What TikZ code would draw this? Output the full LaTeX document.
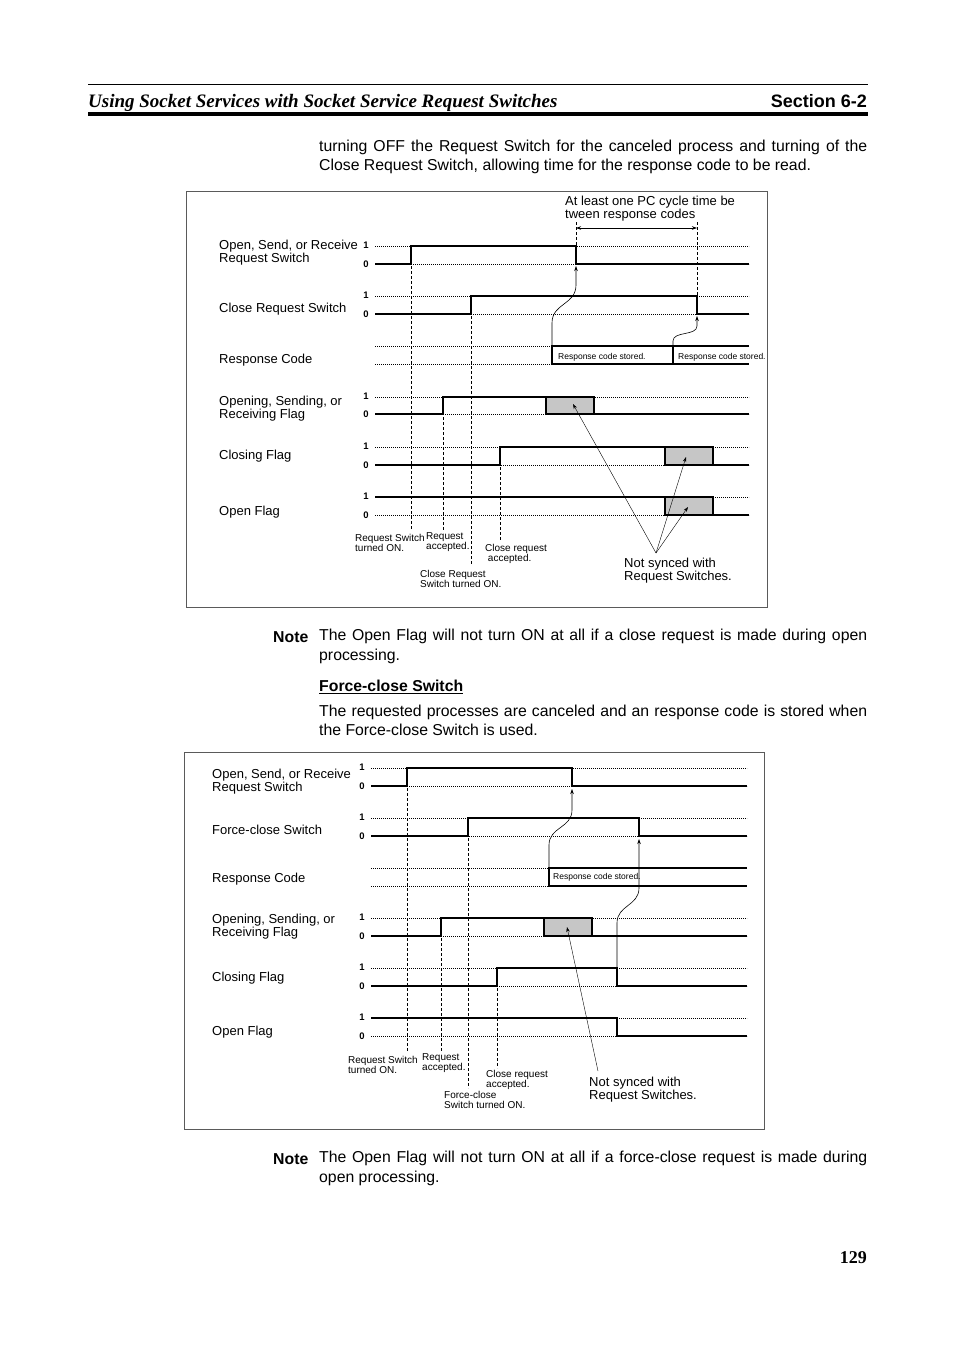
\documentclass[tikz,border=0pt]{standalone}
\usepackage{fontspec}
\setmainfont{Liberation Sans}
\newfontfamily\headserif{Liberation Serif}
\usetikzlibrary{arrows.meta,calc,positioning}
\definecolor{FlagGray}{HTML}{C6C6C6}
\definecolor{FrameGray}{HTML}{5A5A5A}
\tikzset{
  wave/.style={line width=1.8pt},
  lvl/.style={dash pattern=on .8pt off 1.2pt,line width=.7pt},
  guide/.style={dash pattern=on 3pt off 2pt,line width=.8pt},
  digit/.style={font=\fontsize{9.5}{9.5}\selectfont\bfseries,inner sep=0pt},
  sig/.style={font=\fontsize{13}{12}\selectfont,inner sep=0pt,anchor=west,align=left,yshift=-2pt},
  tiny/.style={font=\fontsize{10}{10}\selectfont,inner sep=0pt,anchor=west,align=left,yshift=-1.5pt},
  stored/.style={font=\fontsize{8.5}{8.5}\selectfont,inner sep=0pt,anchor=west,yshift=-1pt},
  body/.style={font=\fontsize{15.8}{19.5}\selectfont,inner sep=0pt,anchor=west,align=left,yshift=-2pt},
  frame/.style={draw=FrameGray,line width=.9pt},
  busy/.style={fill=FlagGray,draw,line width=1.8pt},
  tip/.style={-{Stealth[length=5pt,width=3.5pt]},line width=.6pt},
}
% name, x from, x to, y of level 1, y of level 0
\newcommand{\SigLevels}[5]{%
  \draw[lvl] (#2,#4) -- (#3,#4);
  \draw[lvl] (#2,#5) -- (#3,#5);
  \node[digit] (#1-hi) at (#2-9,#4-1) {1};
  \node[digit] (#1-lo) at (#2-9,#5) {0};}
\newcommand{\FullLine}[1]{\makebox[548pt][s]{#1}}

\begin{document}
\begin{tikzpicture}[x=1pt,y=-1pt]
  \useasboundingbox (0,0) rectangle (954,1351);
  \fill[white] (0,0) rectangle (954,1351);

  % page head
  \draw[line width=.8pt] (88,84) -- (868,84);
  \draw[line width=4pt] (88,114) -- (868,114);
  \node[anchor=west,inner sep=0pt,font=\headserif\bfseries\itshape\fontsize{19}{19}\selectfont]
    (head) at (88,103) {Using Socket Services with Socket Service Request Switches};
  \node[anchor=east,inner sep=0pt,font=\bfseries\fontsize{18}{18}\selectfont]
    (sect) at (867,101.5) {Section 6-2};
  \node[body] (par1) at (319,155) {\FullLine{turning OFF the Request Switch for the canceled process and turning of the}\\
    Close Request Switch, allowing time for the response code to be read.};

  % first chart
  \draw[frame] (186,191) rectangle (767,607);
  \node[sig] (r1) at (219,251) {Open, Send, or Receive\\Request Switch};
  \node[sig] (r2) at (219,307) {Close Request Switch};
  \node[sig] (r3) at (219,358) {Response Code};
  \node[sig] (r4) at (219,406.5) {Opening, Sending, or\\Receiving Flag};
  \node[sig] (r5) at (219,454) {Closing Flag};
  \node[sig] (r6) at (219,510) {Open Flag};
  \SigLevels{a1}{375}{749}{246}{264}
  \SigLevels{a2}{375}{749}{296}{314}
  \draw[lvl] (375,346) -- (552,346);
  \draw[lvl] (375,364) -- (552,364);
  \SigLevels{a4}{375}{749}{397}{414}
  \SigLevels{a5}{375}{749}{447}{465}
  \SigLevels{a6}{375}{749}{497}{515}
  \draw[guide] (411,246) -- (411,530);
  \draw[guide] (443,397) -- (443,530);
  \draw[guide] (471,296) -- (471,565);
  \draw[guide] (500,447) -- (500,540);
  \draw[guide] (576,222) -- (576,246);
  \draw[guide] (697,222) -- (697,296);
  \draw[wave] (375,264) -| (411,246) -| (576,264) -- (749,264);
  \draw[wave] (375,314) -| (471,296) -| (697,314) -- (749,314);
  \draw[wave] (749,346) -- (552,346) -- (552,364) -- (749,364);
  \draw[wave] (673,346) -- (673,364);
  \draw[wave] (375,414) -| (443,397) -- (546,397);
  \draw[busy] (546,397) rectangle (594,414);
  \draw[wave] (594,414) -- (749,414);
  \draw[wave] (375,465) -| (500,447) -- (665,447);
  \draw[busy] (665,447) rectangle (713,465);
  \draw[wave] (713,465) -- (749,465);
  \draw[wave] (375,497) -- (665,497);
  \draw[busy] (665,497) rectangle (713,515);
  \draw[wave] (713,515) -- (749,515);
  \node[stored] (rc1) at (558,356) {Response code stored.};
  \node[stored] (rc2) at (678,356) {Response code stored.};
  \node[sig] (cycle) at (565,207) {At least one PC cycle time be\\tween response codes};
  \coordinate (cyc-l) at (576,228);
  \coordinate (cyc-r) at (697,228);
  \draw[{Stealth[length=5pt,width=3.5pt]}-{Stealth[length=5pt,width=3.5pt]},line width=.6pt] (cyc-l) -- (cyc-r);
  \coordinate (rc1-edge) at (552,346);
  \coordinate (rc2-edge) at (673,346);
  \draw[tip] (rc1-edge) -- ++(0,-23) .. controls +(0,-20) and +(0,20) .. (576,285) -- (576,266);
  \draw[tip] (rc2-edge) -- ++(0,-5) .. controls +(0,-10) and +(0,10) .. (697,326) -- (697,316);
  \node[sig] (sync1) at (624,568.5) {Not synced with\\Request Switches.};
  \coordinate (sync1-top) at (656,553);
  \coordinate (busy1) at (573,404);
  \coordinate (busy2) at (686,457);
  \coordinate (busy3) at (688,507);
  \draw[tip,line width=.4pt] (sync1-top) -- (busy1);
  \draw[tip,line width=.4pt] (sync1-top) -- (busy2);
  \draw[tip,line width=.4pt] (sync1-top) -- (busy3);
  \node[tiny] (t1) at (355,541) {Request Switch\\turned ON.};
  \node[tiny] (t2) at (426,541) {Request\\accepted.};
  \node[tiny] (t3) at (485,552.5) {Close request\\\ accepted.};
  \node[tiny] (t4) at (420,577.5) {Close Request\\Switch turned ON.};

  % notes and text between charts
  \node[body,font=\bfseries\fontsize{15.8}{19.5}\selectfont] (note1) at (273,635) {Note};
  \node[body] (par2) at (319,644.5) {\FullLine{The Open Flag will not turn ON at all if a close request is made during open}\\
    processing.};
  \node[body,font=\bfseries\fontsize{15.8}{19.5}\selectfont] (fcs) at (319,685) {\underline{Force-close Switch}};
  \node[body] (par3) at (319,718.5) {\FullLine{The requested processes are canceled and an response code is stored when}\\
    the Force-close Switch is used.};

  % second chart
  \draw[frame] (184,752) rectangle (764,1129);
  \node[sig] (s1) at (212,779.5) {Open, Send, or Receive\\Request Switch};
  \node[sig] (s2) at (212,828) {Force-close Switch};
  \node[sig] (s3) at (212,877) {Response Code};
  \node[sig] (s4) at (212,924.5) {Opening, Sending, or\\Receiving Flag};
  \node[sig] (s5) at (212,976) {Closing Flag};
  \node[sig] (s6) at (212,1030) {Open Flag};
  \SigLevels{b1}{371}{747}{768}{786}
  \SigLevels{b2}{371}{747}{818}{836}
  \draw[lvl] (371,868) -- (549,868);
  \draw[lvl] (371,886) -- (549,886);
  \SigLevels{b4}{371}{747}{918}{936}
  \SigLevels{b5}{371}{747}{968}{986}
  \SigLevels{b6}{371}{747}{1018}{1036}
  \draw[guide] (407,768) -- (407,1052);
  \draw[guide] (441,918) -- (441,1052);
  \draw[guide] (468,818) -- (468,1088);
  \draw[guide] (497,968) -- (497,1068);
  \draw[wave] (371,786) -| (407,768) -| (572,786) -- (747,786);
  \draw[wave] (371,836) -| (468,818) -| (639,836) -- (747,836);
  \draw[wave] (747,868) -- (549,868) -- (549,886) -- (747,886);
  \draw[wave] (371,936) -| (441,918) -- (544,918);
  \draw[busy] (544,918) rectangle (592,936);
  \draw[wave] (592,936) -- (747,936);
  \draw[wave] (371,986) -| (497,968) -| (617,986) -- (747,986);
  \draw[wave] (371,1018) -| (617,1036) -- (747,1036);
  \node[stored] (rc3) at (553,876) {Response code stored.};
  \coordinate (rc3-edge) at (549,868);
  \coordinate (close-fall) at (617,968);
  \draw[tip] (rc3-edge) -- ++(0,-23) .. controls +(0,-18) and +(0,18) .. (572,810) -- (572,789);
  \draw[tip] (close-fall) -- ++(0,-45) .. controls +(0,-18) and +(0,18) .. (639,888) -- (639,839);
  \node[sig] (sync2) at (589,1087.5) {Not synced with\\Request Switches.};
  \coordinate (sync2-top) at (598,1071);
  \coordinate (busy4) at (567,927);
  \draw[tip,line width=.4pt] (sync2-top) -- (busy4);
  \node[tiny] (u1) at (348,1063) {Request Switch\\turned ON.};
  \node[tiny] (u2) at (422,1062) {Request\\accepted.};
  \node[tiny] (u3) at (486,1078) {Close request\\accepted.};
  \node[tiny] (u4) at (444,1098.5) {Force-close\\Switch turned ON.};

  \node[body,font=\bfseries\fontsize{15.8}{19.5}\selectfont] (note2) at (273,1157) {Note};
  \node[body] (par4) at (319,1166.5) {\FullLine{The Open Flag will not turn ON at all if a force-close request is made during}\\
    open processing.};
  \node[anchor=east,inner sep=0pt,font=\headserif\bfseries\fontsize{18}{18}\selectfont] (page) at (867,1258) {129};
\end{tikzpicture}
\end{document}
